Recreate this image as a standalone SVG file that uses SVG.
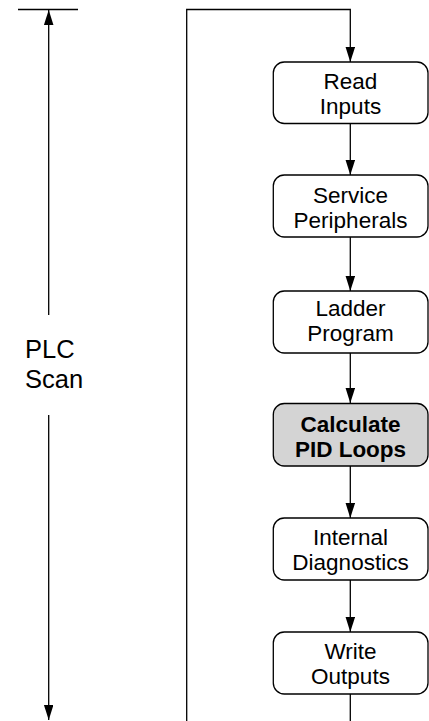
<svg xmlns="http://www.w3.org/2000/svg" width="429" height="721" viewBox="0 0 429 721">
<defs>
<marker id="ah" markerUnits="userSpaceOnUse" markerWidth="16" markerHeight="10" refX="15" refY="4.75" orient="auto">
<path d="M0,0 L15,4.75 L0,9.5 z" fill="#000"/>
</marker>
</defs>
<style>
.node rect{fill:#fff;stroke:#000;stroke-width:1.3}
.node.hl rect{fill:#d4d4d4}
.node text{font-family:"Liberation Sans",Arial,Helvetica,sans-serif;font-size:22.5px;text-anchor:middle;fill:#000}
.node.hl text{font-weight:bold}
.conn line,.conn polyline{stroke:#000;stroke-width:1.3;fill:none}
.arr{marker-end:url(#ah)}
.lbl{font-family:"Liberation Sans",Arial,Helvetica,sans-serif;font-size:25.5px;fill:#000}
</style>
<rect width="429" height="721" fill="#fff"/>
<g id="connectors" class="conn">
<line x1="18" y1="9.5" x2="78" y2="9.5"/>
<line class="arr" x1="48.7" y1="315" x2="48.7" y2="10"/>
<line class="arr" x1="48.7" y1="415" x2="48.7" y2="720"/>
<polyline class="arr" points="186.7,721 186.7,9.5 350.3,9.5 350.3,62"/>
<line class="arr" x1="350.3" y1="124" x2="350.3" y2="175"/>
<line class="arr" x1="350.3" y1="237" x2="350.3" y2="291"/>
<line class="arr" x1="350.3" y1="353" x2="350.3" y2="403"/>
<line class="arr" x1="350.3" y1="466" x2="350.3" y2="518"/>
<line class="arr" x1="350.3" y1="580" x2="350.3" y2="632"/>
<line x1="350.3" y1="694" x2="350.3" y2="721"/>
</g>
<g id="plc-scan"><text class="lbl" x="25" y="358">PLC</text><text class="lbl" x="25" y="388">Scan</text></g>
<g id="read-inputs" class="node"><rect x="273.3" y="62" width="154.7" height="61.5" rx="11"/><text x="350.5" y="89">Read</text><text x="350.5" y="114">Inputs</text></g>
<g id="service-peripherals" class="node"><rect x="273.3" y="175" width="154.7" height="62" rx="11"/><text x="350.5" y="203">Service</text><text x="350.5" y="228">Peripherals</text></g>
<g id="ladder-program" class="node"><rect x="273.3" y="291" width="154.7" height="62" rx="11"/><text x="350.5" y="316">Ladder</text><text x="350.5" y="341">Program</text></g>
<g id="calculate-pid" class="node hl"><rect x="273.3" y="403.5" width="154.7" height="62.5" rx="11"/><text x="350.5" y="432">Calculate</text><text x="350.5" y="457">PID Loops</text></g>
<g id="internal-diagnostics" class="node"><rect x="273.3" y="518" width="154.7" height="62" rx="11"/><text x="350.5" y="545">Internal</text><text x="350.5" y="570">Diagnostics</text></g>
<g id="write-outputs" class="node"><rect x="273.3" y="632" width="154.7" height="62" rx="11"/><text x="350.5" y="659">Write</text><text x="350.5" y="684">Outputs</text></g>
</svg>
